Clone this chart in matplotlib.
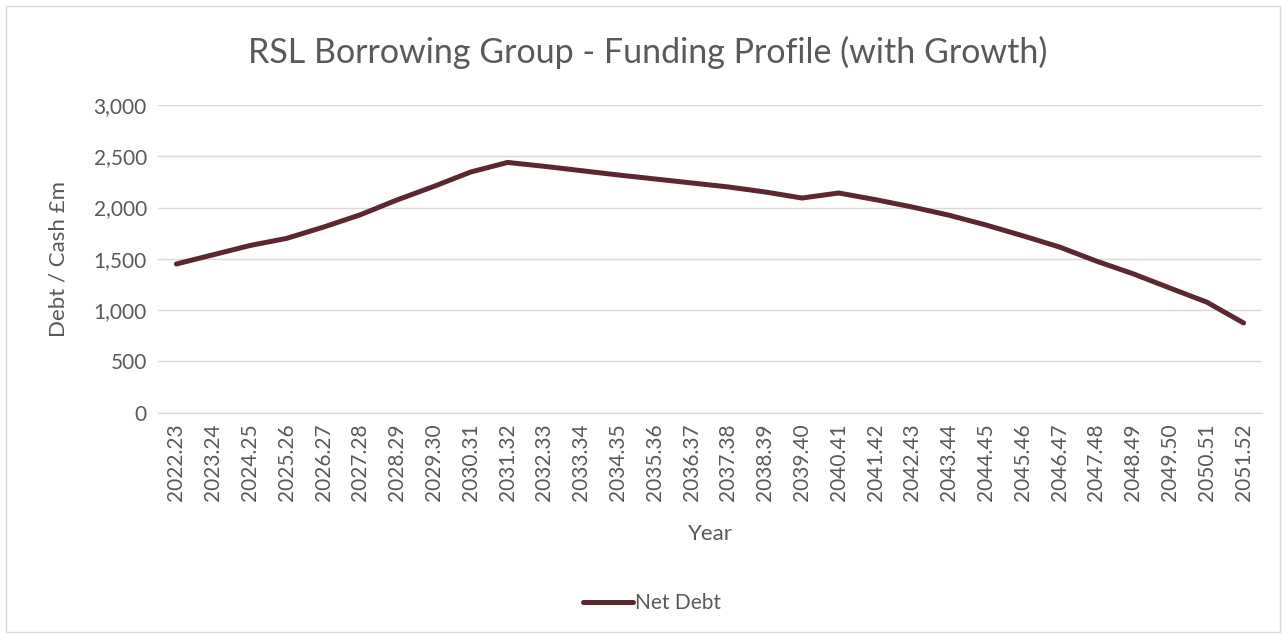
import matplotlib.pyplot as plt
from matplotlib.patches import Rectangle
from matplotlib.ticker import FuncFormatter

years = ["2022.23", "2023.24", "2024.25", "2025.26", "2026.27", "2027.28",
         "2028.29", "2029.30", "2030.31", "2031.32", "2032.33", "2033.34",
         "2034.35", "2035.36", "2036.37", "2037.38", "2038.39", "2039.40",
         "2040.41", "2041.42", "2042.43", "2043.44", "2044.45", "2045.46",
         "2046.47", "2047.48", "2048.49", "2049.50", "2050.51", "2051.52"]
net_debt = [1450, 1540, 1630, 1700, 1810, 1930, 2075, 2207, 2347, 2440,
            2402, 2360, 2318, 2279, 2240, 2201, 2152, 2093, 2142, 2077,
            2005, 1925, 1830, 1725, 1615, 1478, 1354, 1215, 1078, 875]

text_col = "#595959"
line_col = "#5b2832"
font = "Lato"

fig = plt.figure(figsize=(12.88, 6.4), dpi=100)
fig.patches.append(Rectangle((6 / 1288, 8 / 640), 1274 / 1288, 626 / 640,
                             transform=fig.transFigure, fill=False,
                             edgecolor="#d9d9d9", linewidth=1))

ax = fig.add_axes([158 / 1288, 1 - 412.7 / 640, 1104 / 1288, 307.7 / 640])
x = range(len(years))
line, = ax.plot(x, net_debt, color=line_col, linewidth=3.6,
                solid_capstyle="round", solid_joinstyle="round", label="Net Debt")

ax.set_xlim(-0.5, len(years) - 0.5)
ax.set_ylim(0, 3000)
ax.set_yticks(range(0, 3001, 500))
ax.yaxis.set_major_formatter(FuncFormatter(lambda v, p: f"{int(v):,}"))
ax.set_xticks(list(x))
ax.set_xticklabels(years, rotation=90)
ax.grid(axis="y", color="#d9d9d9", linewidth=1)
ax.set_axisbelow(True)
for s in ax.spines.values():
    s.set_visible(False)
ax.spines["bottom"].set_visible(True)
ax.spines["bottom"].set_color("#d9d9d9")
ax.tick_params(length=0, colors=text_col, labelsize=15, pad=8)
for lbl in ax.get_xticklabels() + ax.get_yticklabels():
    lbl.set_fontfamily(font)

ax.set_xlabel("Year", fontsize=16, color=text_col, family=font, labelpad=16)
ax.set_ylabel("Debt / Cash £m", fontsize=16, color=text_col, family=font, labelpad=18)

fig.text(648 / 1288, 1 - 52 / 640, "RSL Borrowing Group - Funding Profile (with Growth)",
         ha="center", va="center", fontsize=24.5, color=text_col, family=font)

fig.legend(handles=[line], loc="center", bbox_to_anchor=(652 / 1288, 1 - 603 / 640),
           frameon=False, handlelength=2.4, handletextpad=0.1,
           prop={"family": font, "size": 15}, labelcolor=text_col)

fig.savefig("out.png", dpi=100)
